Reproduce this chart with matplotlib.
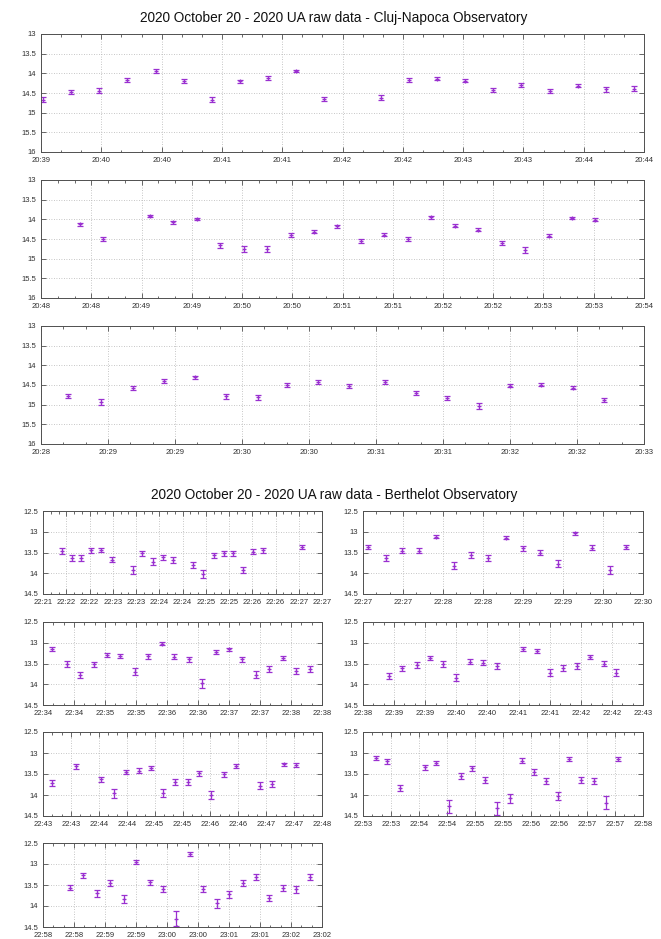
import numpy as np
import pandas as pd
import matplotlib
matplotlib.use("Agg")
import matplotlib.pyplot as plt
import matplotlib.dates as mdates
from matplotlib.ticker import FixedLocator, FormatStrFormatter

DAY = "2020-10-20 "
c_point = "#9a30d0"
c_grid = "#b4b4b4"
c_frame = "#505050"
c_text = "#303030"

# ------------------------------------------------------------------ #
#                     Cluj-Napoca, three sessions                    #
# ------------------------------------------------------------------ #
cluj1_range = ("20:39:30", "20:44:30")
cluj1_t = ["20:39:31", "20:39:45", "20:39:59", "20:40:13", "20:40:27", "20:40:41",
           "20:40:55", "20:41:09", "20:41:23", "20:41:37", "20:41:51", "20:42:19",
           "20:42:33", "20:42:47", "20:43:01", "20:43:15", "20:43:29", "20:43:43",
           "20:43:57", "20:44:11", "20:44:25"]
cluj1_mag = [14.67, 14.48, 14.44, 14.17, 13.94, 14.20, 14.67, 14.20, 14.12, 13.94, 14.65,
             14.62, 14.18, 14.14, 14.19, 14.43, 14.29, 14.44, 14.31, 14.41, 14.39]
cluj1_err = [0.07, 0.05, 0.06, 0.04, 0.04, 0.05, 0.06, 0.04, 0.04, 0.03, 0.06,
             0.06, 0.05, 0.04, 0.04, 0.05, 0.05, 0.05, 0.05, 0.06, 0.06]

cluj2_range = ("20:48:00", "20:54:00")
cluj2_t = ["20:48:23", "20:48:37", "20:49:05", "20:49:19", "20:49:33", "20:49:47",
           "20:50:01", "20:50:15", "20:50:29", "20:50:43", "20:50:57", "20:51:11",
           "20:51:25", "20:51:39", "20:51:53", "20:52:07", "20:52:21", "20:52:35",
           "20:52:49", "20:53:03", "20:53:17", "20:53:31"]
cluj2_mag = [14.13, 14.50, 13.91, 14.08, 13.99, 14.66, 14.76, 14.76, 14.40, 14.31, 14.18,
             14.55, 14.39, 14.50, 13.95, 14.16, 14.26, 14.61, 14.78, 14.42, 13.96, 14.01]
cluj2_err = [0.04, 0.06, 0.03, 0.04, 0.03, 0.06, 0.07, 0.07, 0.05, 0.05, 0.03,
             0.06, 0.04, 0.05, 0.03, 0.04, 0.04, 0.05, 0.07, 0.04, 0.03, 0.04]

cluj3_range = ("20:28:30", "20:33:00")
cluj3_t = ["20:28:42", "20:28:57", "20:29:11", "20:29:25", "20:29:39", "20:29:53",
           "20:30:07", "20:30:20", "20:30:34", "20:30:48", "20:31:04", "20:31:18",
           "20:31:32", "20:31:46", "20:32:00", "20:32:14", "20:32:28", "20:32:42"]
cluj3_mag = [14.78, 14.93, 14.57, 14.40, 14.30, 14.79, 14.81, 14.51, 14.42, 14.53,
             14.42, 14.70, 14.83, 15.04, 14.52, 14.49, 14.57, 14.88]
cluj3_err = [0.06, 0.07, 0.05, 0.05, 0.04, 0.06, 0.06, 0.05, 0.05, 0.05,
             0.05, 0.06, 0.06, 0.08, 0.04, 0.04, 0.04, 0.06]

# ------------------------------------------------------------------ #
#                      Berthelot, seven sessions                     #
# ------------------------------------------------------------------ #
bert1_range = ("22:21:30", "22:27:30")
bert1_t = ["22:21:54", "22:22:07", "22:22:19", "22:22:32", "22:22:45", "22:22:59",
           "22:23:26", "22:23:38", "22:23:52", "22:24:05", "22:24:18", "22:24:43",
           "22:24:56", "22:25:10", "22:25:23", "22:25:35", "22:25:48", "22:26:01",
           "22:26:14", "22:27:04"]
bert1_mag = [13.46, 13.64, 13.64, 13.45, 13.43, 13.67, 13.92, 13.52, 13.72, 13.61,
             13.68, 13.80, 14.02, 13.57, 13.52, 13.52, 13.92, 13.48, 13.45, 13.36]
bert1_err = [0.07, 0.07, 0.07, 0.07, 0.05, 0.07, 0.09, 0.06, 0.08, 0.06,
             0.07, 0.08, 0.10, 0.06, 0.06, 0.06, 0.08, 0.06, 0.06, 0.05]

bert2_range = ("22:27:00", "22:30:30")
bert2_t = ["22:27:04", "22:27:17", "22:27:29", "22:27:42", "22:27:55", "22:28:08",
           "22:28:21", "22:28:34", "22:28:47", "22:29:00", "22:29:13", "22:29:26",
           "22:29:39", "22:29:52", "22:30:05", "22:30:17"]
bert2_mag = [13.36, 13.64, 13.46, 13.46, 13.12, 13.82, 13.56, 13.63, 13.14, 13.40,
             13.51, 13.77, 13.04, 13.38, 13.92, 13.36]
bert2_err = [0.05, 0.07, 0.06, 0.06, 0.04, 0.08, 0.07, 0.07, 0.04, 0.06,
             0.06, 0.08, 0.03, 0.05, 0.09, 0.05]

bert3_range = ("22:34:00", "22:38:30")
bert3_t = ["22:34:09", "22:34:23", "22:34:36", "22:34:49", "22:35:02", "22:35:15",
           "22:35:29", "22:35:42", "22:35:55", "22:36:07", "22:36:21", "22:36:34",
           "22:36:47", "22:37:00", "22:37:13", "22:37:26", "22:37:39", "22:37:52",
           "22:38:05", "22:38:18"]
bert3_mag = [13.16, 13.52, 13.78, 13.52, 13.30, 13.32, 13.70, 13.32, 13.02, 13.34,
             13.40, 13.98, 13.22, 13.16, 13.40, 13.77, 13.64, 13.36, 13.68, 13.64]
bert3_err = [0.05, 0.07, 0.08, 0.06, 0.05, 0.05, 0.08, 0.06, 0.04, 0.06,
             0.06, 0.10, 0.05, 0.04, 0.06, 0.08, 0.07, 0.05, 0.07, 0.07]

bert4_range = ("22:38:30", "22:43:00")
bert4_t = ["22:38:55", "22:39:08", "22:39:22", "22:39:35", "22:39:47", "22:40:00",
           "22:40:13", "22:40:26", "22:40:39", "22:41:04", "22:41:18", "22:41:30",
           "22:41:43", "22:41:56", "22:42:09", "22:42:22", "22:42:34"]
bert4_mag = [13.80, 13.62, 13.54, 13.36, 13.52, 13.84, 13.46, 13.48, 13.56, 13.16,
             13.20, 13.72, 13.60, 13.56, 13.34, 13.50, 13.72]
bert4_err = [0.08, 0.07, 0.07, 0.05, 0.07, 0.09, 0.06, 0.06, 0.07, 0.05,
             0.05, 0.08, 0.07, 0.07, 0.05, 0.05, 0.08]

bert5_range = ("22:43:00", "22:48:00")
bert5_t = ["22:43:10", "22:43:36", "22:44:02", "22:44:16", "22:44:29", "22:44:43",
           "22:44:56", "22:45:09", "22:45:22", "22:45:36", "22:45:48", "22:46:01",
           "22:46:15", "22:46:27", "22:46:53", "22:47:06", "22:47:19", "22:47:32"]
bert5_mag = [13.71, 13.32, 13.62, 13.96, 13.46, 13.42, 13.36, 13.95, 13.69, 13.69,
             13.48, 14.00, 13.51, 13.30, 13.78, 13.74, 13.27, 13.28]
bert5_err = [0.07, 0.05, 0.06, 0.10, 0.05, 0.06, 0.05, 0.10, 0.07, 0.07,
             0.06, 0.10, 0.05, 0.05, 0.08, 0.08, 0.04, 0.05]

bert6_range = ("22:53:00", "22:58:00")
bert6_t = ["22:53:14", "22:53:26", "22:53:40", "22:54:06", "22:54:18", "22:54:32",
           "22:54:45", "22:54:57", "22:55:11", "22:55:24", "22:55:37", "22:55:50",
           "22:56:03", "22:56:16", "22:56:29", "22:56:41", "22:56:54", "22:57:07",
           "22:57:20", "22:57:33"]
bert6_mag = [13.11, 13.20, 13.83, 13.34, 13.24, 14.27, 13.54, 13.36, 13.64, 14.32,
             14.08, 13.18, 13.46, 13.66, 14.02, 13.14, 13.64, 13.66, 14.18, 13.14]
bert6_err = [0.05, 0.05, 0.08, 0.06, 0.05, 0.16, 0.07, 0.06, 0.07, 0.16,
             0.10, 0.05, 0.07, 0.07, 0.10, 0.05, 0.07, 0.07, 0.15, 0.05]

bert7_range = ("22:58:00", "23:02:30")
bert7_t = ["22:58:26", "22:58:39", "22:58:52", "22:59:05", "22:59:18", "22:59:30",
           "22:59:44", "22:59:56", "23:00:09", "23:00:22", "23:00:35", "23:00:48",
           "23:01:00", "23:01:14", "23:01:26", "23:01:39", "23:01:52", "23:02:05",
           "23:02:18"]
bert7_mag = [13.56, 13.27, 13.70, 13.46, 13.84, 12.95, 13.44, 13.60, 14.30, 12.76,
             13.60, 13.94, 13.72, 13.46, 13.30, 13.81, 13.57, 13.60, 13.30]
bert7_err = [0.07, 0.06, 0.08, 0.07, 0.10, 0.04, 0.07, 0.07, 0.18, 0.04,
             0.07, 0.10, 0.08, 0.07, 0.07, 0.08, 0.07, 0.08, 0.07]

cluj_yticks = [13, 13.5, 14, 14.5, 15, 15.5, 16]
bert_yticks = [12.5, 13, 13.5, 14, 14.5]

W, H = 661, 939
fig = plt.figure(figsize=(W / 100, H / 100), dpi=100)
plt.rcParams["font.family"] = ["Liberation Sans", "DejaVu Sans"]


def to_num(times):
    return mdates.date2num(pd.to_datetime([DAY + s for s in times]))


def add_panel(left, top, right, bottom):
    return fig.add_axes([left / W, 1 - bottom / H, (right - left) / W, (bottom - top) / H])


def draw(ax, times, mags, errs, xrange_, yticks):
    x = to_num(times)
    ax.errorbar(x, mags, yerr=errs, fmt="+", color=c_point, ecolor=c_point,
                markersize=3.2, markeredgewidth=0.9, elinewidth=0.9,
                capsize=2.0, capthick=0.9)
    lo, hi = to_num(xrange_)
    ax.set_xlim(lo, hi)
    ax.set_ylim(yticks[-1], yticks[0])
    ax.yaxis.set_major_locator(FixedLocator(yticks))
    ax.yaxis.set_major_formatter(FormatStrFormatter("%g"))
    ax.xaxis.set_major_locator(mdates.SecondLocator(bysecond=[0, 30]))
    ax.xaxis.set_minor_locator(mdates.SecondLocator(bysecond=[10, 20, 40, 50]))
    ax.xaxis.set_major_formatter(mdates.DateFormatter("%H:%M"))
    ax.grid(True, which="major", linestyle=(0, (1, 2)), color=c_grid, linewidth=0.6)
    ax.set_axisbelow(True)
    ax.tick_params(which="both", direction="in", top=True, right=True,
                   colors=c_frame, labelcolor=c_text, labelsize=5.5, width=0.6)
    ax.tick_params(which="major", length=3.5, pad=3.5)
    ax.tick_params(which="minor", length=1.8)
    for s in ax.spines.values():
        s.set_color(c_frame)
        s.set_linewidth(0.7)


# top block: three long panels
cluj_boxes = [(41, 34, 644, 152), (41, 180, 644, 298), (41, 326, 644, 444)]
cluj_sets = [(cluj1_t, cluj1_mag, cluj1_err, cluj1_range),
             (cluj2_t, cluj2_mag, cluj2_err, cluj2_range),
             (cluj3_t, cluj3_mag, cluj3_err, cluj3_range)]
for box, (t, m, e, r) in zip(cluj_boxes, cluj_sets):
    draw(add_panel(*box), t, m, e, r, cluj_yticks)

fig.text(334 / W, 1 - 18 / H, "2020 October 20 - 2020 UA raw data - Cluj-Napoca Observatory",
         ha="center", va="center", fontsize=9.8, color="#111111")

# bottom block: two-column grid
cols = [(43, 322), (363, 643)]
rows = [(511, 594), (622, 705), (732, 816), (843, 927)]
bert_sets = [(bert1_t, bert1_mag, bert1_err, bert1_range),
             (bert2_t, bert2_mag, bert2_err, bert2_range),
             (bert3_t, bert3_mag, bert3_err, bert3_range),
             (bert4_t, bert4_mag, bert4_err, bert4_range),
             (bert5_t, bert5_mag, bert5_err, bert5_range),
             (bert6_t, bert6_mag, bert6_err, bert6_range),
             (bert7_t, bert7_mag, bert7_err, bert7_range)]
for i, (t, m, e, r) in enumerate(bert_sets):
    left, right = cols[i % 2]
    top, bottom = rows[i // 2]
    draw(add_panel(left, top, right, bottom), t, m, e, r, bert_yticks)

fig.text(334 / W, 1 - 495 / H, "2020 October 20 - 2020 UA raw data - Berthelot Observatory",
         ha="center", va="center", fontsize=9.8, color="#111111")

fig.savefig("out.png", dpi=100, facecolor="white")
